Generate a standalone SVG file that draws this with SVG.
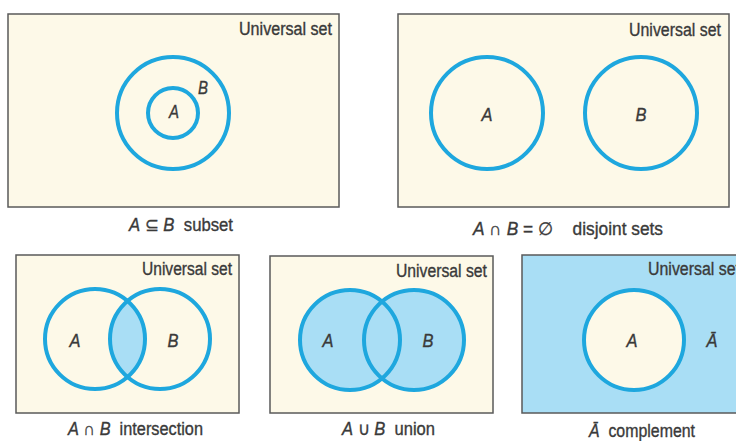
<svg xmlns="http://www.w3.org/2000/svg" width="736" height="441" viewBox="0 0 736 441">
<style>
.frame{fill:#fdf9e8;stroke:#5a5a5a;stroke-width:1.5}
.frameb{fill:#a9def5;stroke:#5a5a5a;stroke-width:1.5}
.ring{fill:none;stroke:#1ea7de;stroke-width:4}
.lb{fill:#a9def5}
.cr{fill:#fdf9e8}
text{font-family:"Liberation Sans","Arial",sans-serif;fill:#3a3a3a;stroke:#3a3a3a;stroke-width:0.35}
.us{font-size:18px}
.v{font-size:18px;font-style:italic;text-anchor:middle}
.cap{font-size:18px}
.it{font-style:italic}
</style>
<defs>
<clipPath id="clipA3"><circle cx="95" cy="339" r="50"/></clipPath>
</defs>
<g id="subset">
<rect class="frame" x="8" y="14" width="331" height="193"/>
<text class="us" x="239" y="35" textLength="93" lengthAdjust="spacingAndGlyphs">Universal set</text>
<circle class="ring" cx="173" cy="113" r="56"/>
<circle class="ring" cx="173" cy="113" r="25"/>
<text class="v" x="174" y="118" textLength="10" lengthAdjust="spacingAndGlyphs">A</text>
<text class="v" x="203" y="94" textLength="10" lengthAdjust="spacingAndGlyphs">B</text>
<text class="cap" x="129" y="231" textLength="104" lengthAdjust="spacingAndGlyphs" xml:space="preserve"><tspan class="it">A</tspan> ⊆ <tspan class="it">B</tspan>  subset</text>
</g>
<g id="disjoint">
<rect class="frame" x="398" y="14" width="331" height="193"/>
<text class="us" x="629" y="36" textLength="92" lengthAdjust="spacingAndGlyphs">Universal set</text>
<circle class="ring" cx="487" cy="113" r="56"/>
<circle class="ring" cx="641" cy="113" r="56"/>
<text class="v" x="487" y="121" textLength="11" lengthAdjust="spacingAndGlyphs">A</text>
<text class="v" x="641" y="121" textLength="11" lengthAdjust="spacingAndGlyphs">B</text>
<text class="cap" x="473" y="235" textLength="190" lengthAdjust="spacingAndGlyphs" xml:space="preserve"><tspan class="it">A</tspan> ∩ <tspan class="it">B</tspan> = ∅    disjoint sets</text>
</g>
<g id="intersection">
<rect class="frame" x="16" y="255" width="223" height="158"/>
<text class="us" x="142" y="275" textLength="90" lengthAdjust="spacingAndGlyphs">Universal set</text>
<circle class="lb" cx="160" cy="339" r="50" clip-path="url(#clipA3)"/>
<circle class="ring" cx="95" cy="339" r="50"/>
<circle class="ring" cx="160" cy="339" r="50"/>
<text class="v" x="75" y="347" textLength="11" lengthAdjust="spacingAndGlyphs">A</text>
<text class="v" x="173" y="347" textLength="11" lengthAdjust="spacingAndGlyphs">B</text>
<text class="cap" x="68" y="435" textLength="135" lengthAdjust="spacingAndGlyphs" xml:space="preserve"><tspan class="it">A</tspan> ∩ <tspan class="it">B</tspan>  intersection</text>
</g>
<g id="union">
<rect class="frame" x="270" y="256" width="223" height="157"/>
<text class="us" x="396" y="277" textLength="91" lengthAdjust="spacingAndGlyphs">Universal set</text>
<circle class="lb" cx="350" cy="340" r="50"/>
<circle class="lb" cx="414" cy="340" r="50"/>
<circle class="ring" cx="350" cy="340" r="50"/>
<circle class="ring" cx="414" cy="340" r="50"/>
<text class="v" x="328" y="347" textLength="11" lengthAdjust="spacingAndGlyphs">A</text>
<text class="v" x="428" y="347" textLength="11" lengthAdjust="spacingAndGlyphs">B</text>
<text class="cap" x="342" y="435" textLength="93" lengthAdjust="spacingAndGlyphs" xml:space="preserve"><tspan class="it">A</tspan> ∪ <tspan class="it">B</tspan>  union</text>
</g>
<g id="complement">
<rect class="frameb" x="522" y="255" width="230" height="158"/>
<text class="us" x="648" y="275" textLength="92" lengthAdjust="spacingAndGlyphs">Universal set</text>
<circle class="cr" cx="634" cy="340" r="50"/>
<circle class="ring" cx="634" cy="340" r="50"/>
<text class="v" x="632" y="347" textLength="11" lengthAdjust="spacingAndGlyphs">A</text>
<text class="v" x="712" y="347" textLength="11" lengthAdjust="spacingAndGlyphs">Ā</text>
<text class="cap" x="589" y="437" textLength="106" lengthAdjust="spacingAndGlyphs" xml:space="preserve"><tspan class="it">Ā</tspan>  complement</text>
</g>
</svg>
